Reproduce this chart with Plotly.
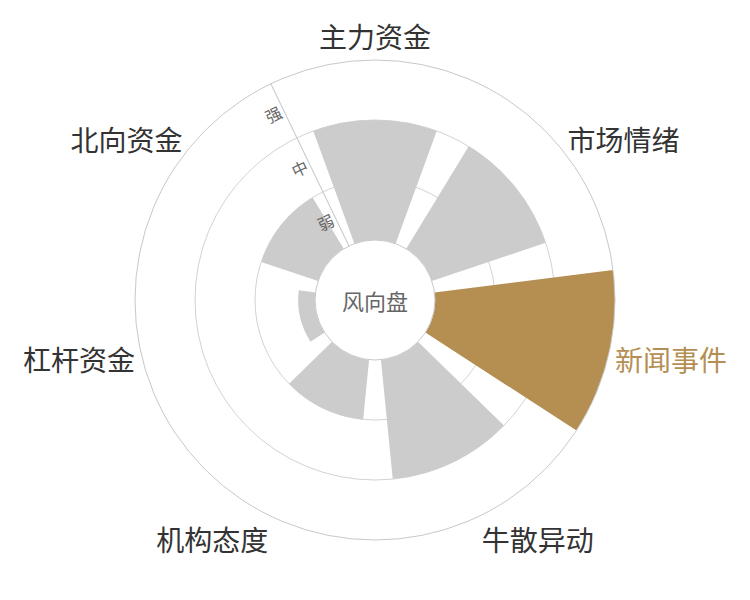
import plotly.graph_objects as go

categories = ['主力资金', '市场情绪', '新闻事件', '牛散异动', '机构态度', '杠杆资金', '北向资金']
values = [2, 2, 3, 2, 1, 0.28, 1]
level_labels = ['弱', '中', '强']
level_pos = [0.5, 1.5, 2.5]
highlight = '新闻事件'

gold = '#B58F52'
grey = '#CCCCCC'
bar_colors = [gold if c == highlight else grey for c in categories]
tick_text = ["<span style='color:%s'>%s</span>" % (gold, c) if c == highlight else c for c in categories]

axis_angle = 90 + 360 / len(categories) / 2
font = 'Noto Sans CJK SC'

fig = go.Figure()

# bars on the base subplot (gridlines sit under them)
fig.add_trace(go.Barpolar(
    r=values, theta=categories, marker=dict(color=bar_colors, line=dict(width=0)),
    subplot='polar', showlegend=False, hoverinfo='skip'))

# empty trace so the label subplot gets drawn
fig.add_trace(go.Scatterpolar(
    r=values, theta=categories, mode='none', subplot='polar2',
    showlegend=False, hoverinfo='skip'))

common = dict(domain=dict(x=[0, 1], y=[0, 1]), hole=0.25)

fig.update_layout(
    width=750, height=600,
    margin=dict(l=0, r=16, t=52, b=68),
    paper_bgcolor='white',
    font=dict(family=font),
    polar=dict(
        **common,
        bgcolor='white',
        bargap=0.22,
        radialaxis=dict(range=[0, 3], tickvals=[1, 2], showticklabels=False, ticks='',
                        showgrid=True, gridcolor='#D3D3D3', gridwidth=1,
                        showline=True, linecolor='#C8C8C8', linewidth=1, angle=axis_angle),
        angularaxis=dict(direction='clockwise', rotation=90, showgrid=False, ticks='',
                         showline=True, linecolor='#C8C8C8', linewidth=1,
                         tickvals=categories, ticktext=tick_text,
                         tickfont=dict(size=28, color='#333333', family=font)),
    ),
    polar2=dict(
        **common,
        bgcolor='rgba(0,0,0,0)',
        radialaxis=dict(range=[0, 3], tickvals=level_pos, ticktext=level_labels, ticks='',
                        showgrid=False, showline=False, angle=axis_angle, tickangle=90,
                        side='counterclockwise',
                        tickfont=dict(size=16, color='#666666', family=font)),
        angularaxis=dict(direction='clockwise', rotation=90, visible=False,
                         categoryarray=categories, categoryorder='array'),
    ),
    annotations=[dict(text='风向盘', x=0.5, y=0.5, xref='paper', yref='paper',
                      showarrow=False, font=dict(size=22, color='#666666', family=font))],
)

fig.write_html('out.html')
